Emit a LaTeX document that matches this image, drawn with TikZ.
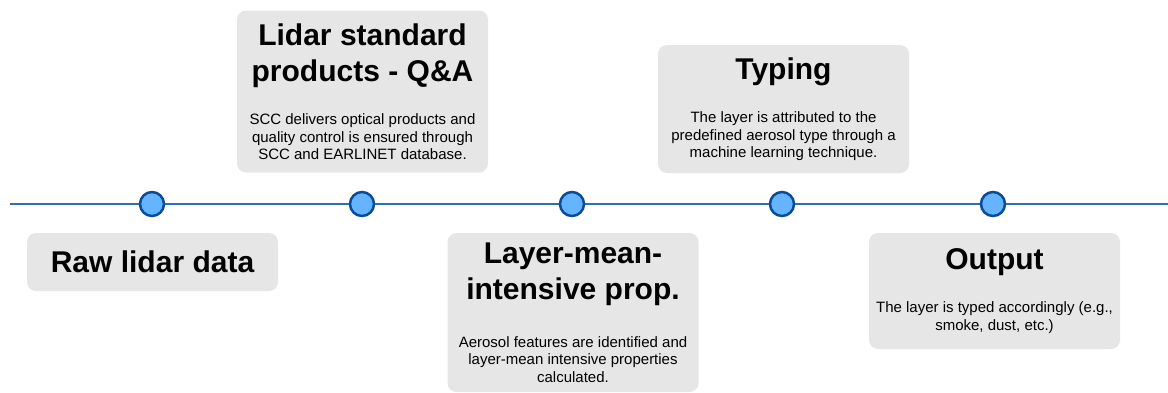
\documentclass[tikz,border=0pt]{standalone}
\usepackage{fontspec}
\setmainfont{Liberation Sans}
\usetikzlibrary{positioning}

\definecolor{stagegray}{HTML}{E6E6E6}
\definecolor{lineblue}{HTML}{2F6DB5}
\definecolor{dotfill}{HTML}{64B4FF}
\definecolor{dotdraw}{HTML}{0B4C9A}

\newcommand{\stagehead}{\fontsize{30}{36}\selectfont\bfseries\spaceskip=0.278em\relax}
\newcommand{\stagetext}{\fontsize{15}{17.5}\selectfont\frenchspacing\spaceskip=0.278em\relax}

\begin{document}
\begin{tikzpicture}[x=1pt, y=-1pt,
        stage/.style={fill=stagegray, rounded corners=9pt, text width=245pt,
            inner sep=3pt, align=center},
        dot/.style={circle, fill=dotfill, draw=dotdraw, line width=2.5pt,
            minimum size=24pt, inner sep=0pt},
        timeline/.style={draw=lineblue, line width=2pt}]
        \useasboundingbox (0,0) rectangle (1168,392);

        \node[stage, minimum height=58pt] (raw) at (152.5, 262) {\stagehead Raw lidar data};
        \node[stage, minimum height=162pt] (products) at (362.5, 91.5)
            {{\stagehead Lidar standard\\products - Q\&A\par}\vspace{26pt}
             {\stagetext SCC delivers optical products and\\quality control is ensured through\\SCC and EARLINET database.\par}};
        \node[stage, minimum height=159pt] (layer) at (573, 312.5)
            {{\stagehead Layer-mean-\\intensive prop.\par}\vspace{30pt}
             {\stagetext Aerosol features are identified and\\layer-mean intensive properties\\calculated.\par}\vspace{-8pt}};
        \node[stage, minimum height=128pt] (typing) at (783.5, 109)
            {{\stagehead Typing\par}\vspace{26pt}
             {\stagetext The layer is attributed to the\\predefined aerosol type through a\\machine learning technique.\par}\vspace{-6pt}};
        \node[stage, minimum height=116pt] (output) at (994.5, 291)
            {{\stagehead Output\par}\vspace{26pt}
             {\stagetext The layer is typed accordingly (e.g.,\\smoke, dust, etc.)\par}};

        \coordinate (tl-start) at (10, 204);
        \coordinate (tl-end) at (1168, 204);
        \node[dot] (d1) at (152, 204) {};
        \node[dot] (d2) at (362, 204) {};
        \node[dot] (d3) at (572, 204) {};
        \node[dot] (d4) at (782, 204) {};
        \node[dot] (d5) at (993, 204) {};

        \draw[timeline] (tl-start) -- (d1) -- (d2) -- (d3) -- (d4) -- (d5) -- (tl-end);
    \end{tikzpicture}
\end{document}
